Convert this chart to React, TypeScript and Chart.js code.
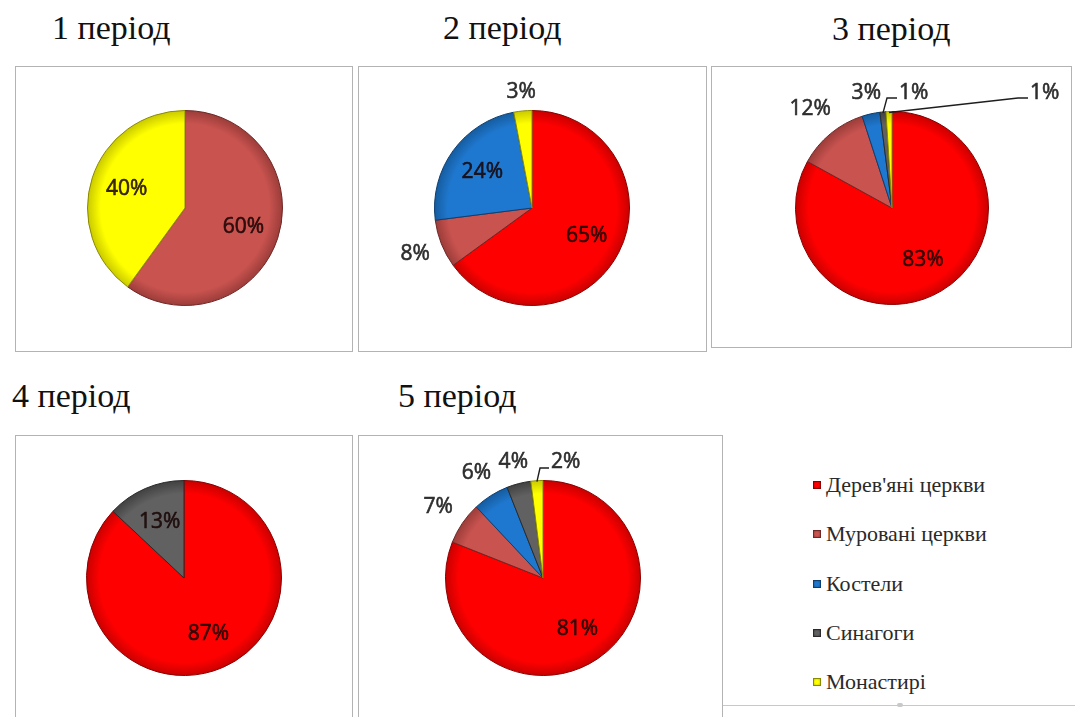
import React, { useEffect, useRef } from 'react';
import { Chart, registerables } from 'chart.js';

Chart.register(...registerables);

// ---- data ----
const categories = ["Дерев'яні церкви", 'Муровані церкви', 'Костели', 'Синагоги', 'Монастирі'];
const periodTitles = ['1 період', '2 період', '3 період', '4 період', '5 період'];
const period1 = [0, 60, 0, 0, 40];
const period2 = [65, 8, 24, 0, 3];
const period3 = [83, 12, 3, 1, 1];
const period4 = [87, 0, 0, 13, 0];
const period5 = [81, 7, 6, 4, 2];

// ---- styles ----
const fillColors = ['#ff0000', '#c9534f', '#1f78cf', '#616161', '#ffff00'];
const edgeColors = ['#c80000', '#9a3c39', '#155b9e', '#404040', '#c8c800'];
const borderColors = ['#8a0000', '#6e2826', '#0d3f70', '#2a2a2a', '#8a8a00'];

const LABEL_FONT = '"Open Sans", "Noto Sans", sans-serif';
const SERIF =
  '"Liberation Serif", "DejaVu Serif", "Noto Serif", FreeSerif, "Nimbus Roman", "Times New Roman", Times, serif';

type Leader = { index: number; dx: number; dy: number; elbow: number; lineDy: number };
type Panel = {
  title: string;
  values: number[];
  box: { left: number; top: number; width: number; height: number };
  center: { x: number; y: number };
  r: number;
  titlePos: { left: number; baseline: number };
  leaders: Leader[];
};

const panels: Panel[] = [
  {
    title: periodTitles[0], values: period1,
    box: { left: 15, top: 66, width: 338, height: 286 },
    center: { x: 185, y: 208 }, r: 98,
    titlePos: { left: 52, baseline: 39 }, leaders: [],
  },
  {
    title: periodTitles[1], values: period2,
    box: { left: 358, top: 66, width: 349, height: 286 },
    center: { x: 532, y: 208 }, r: 98,
    titlePos: { left: 443, baseline: 39 }, leaders: [],
  },
  {
    title: periodTitles[2], values: period3,
    box: { left: 711, top: 66, width: 361, height: 282 },
    center: { x: 892, y: 208 }, r: 97,
    titlePos: { left: 832, baseline: 40 },
    leaders: [
      { index: 3, dx: 7, dy: -115, elbow: 10, lineDy: 5 },
      { index: 4, dx: 138, dy: -115, elbow: 10, lineDy: 5 },
    ],
  },
  {
    title: periodTitles[3], values: period4,
    box: { left: 15, top: 435, width: 338, height: 300 },
    center: { x: 184, y: 578 }, r: 98,
    titlePos: { left: 12, baseline: 407 }, leaders: [],
  },
  {
    title: periodTitles[4], values: period5,
    box: { left: 358, top: 435, width: 365, height: 300 },
    center: { x: 543, y: 578 }, r: 98,
    titlePos: { left: 398, baseline: 407 },
    leaders: [{ index: 4, dx: 8, dy: -116, elbow: 9, lineDy: 6 }],
  },
];

function drawText(ctx: CanvasRenderingContext2D, text: string, x: number, y: number, color: string) {
  ctx.fillStyle = color;
  ctx.strokeStyle = color;
  ctx.lineWidth = 0.6;
  ctx.fillText(text, x, y);
  ctx.strokeText(text, x, y);
}

const sliceLabelPlugin = {
  id: 'sliceLabels',
  afterDatasetsDraw(chart: any, _args: any, opts: any) {
    const ctx: CanvasRenderingContext2D = chart.ctx;
    const meta = chart.getDatasetMeta(0);
    const values: number[] = chart.data.datasets[0].data;
    const total = values.reduce((a, b) => a + b, 0);
    ctx.save();
    ctx.font = `${opts.fontSize}px ${LABEL_FONT}`;
    meta.data.forEach((arc: any, i: number) => {
      const v = values[i];
      if (!v) return;
      const p = arc.getProps(['x', 'y', 'startAngle', 'endAngle', 'outerRadius'], true);
      const mid = (p.startAngle + p.endAngle) / 2;
      const dx = Math.cos(mid);
      const dy = Math.sin(mid);
      const pct = Math.round((v / total) * 100);
      const text = pct + '%';
      const leader = (opts.leaders || []).find((l: Leader) => l.index === i);
      if (leader) {
        const ex = p.x + dx * (p.outerRadius - 1);
        const ey = p.y + dy * (p.outerRadius - 1);
        const lx = p.x + leader.dx;
        const ly = p.y + leader.dy;
        const lineY = ly + leader.lineDy;
        ctx.strokeStyle = '#1e1e1e';
        ctx.lineWidth = 1.4;
        ctx.beginPath();
        ctx.moveTo(ex, ey);
        ctx.lineTo(lx - 2 - leader.elbow, lineY);
        ctx.lineTo(lx - 2, lineY);
        ctx.stroke();
        ctx.textAlign = 'left';
        ctx.textBaseline = 'middle';
        drawText(ctx, text, lx, ly, opts.outsideColor);
        return;
      }
      ctx.textAlign = 'center';
      ctx.textBaseline = 'middle';
      if (pct >= opts.insideMin) {
        const rr = p.outerRadius * opts.insideFactor;
        drawText(ctx, text, p.x + dx * rr, p.y + dy * rr, opts.insideColor);
      } else {
        const m = ctx.measureText(text);
        const hw = m.width / 2;
        const hh = opts.fontSize * 0.36;
        const d = p.outerRadius + opts.gap + Math.abs(dx) * hw + Math.abs(dy) * hh + Math.abs(dx * dy) * 8;
        drawText(ctx, text, p.x + dx * d, p.y + dy * d, opts.outsideColor);
      }
    });
    ctx.restore();
  },
};

function PieBox({ panel }: { panel: Panel }) {
  const ref = useRef<HTMLCanvasElement | null>(null);
  useEffect(() => {
    if (!ref.current) return;
    const { box, center, r } = panel;
    const cx = center.x - box.left;
    const cy = center.y - box.top;
    const padding = {
      left: cx - r,
      right: box.width - cx - r,
      top: cy - r,
      bottom: box.height - cy - r,
    };
    const chart = new Chart(ref.current, {
      type: 'pie',
      data: {
        labels: categories,
        datasets: [
          {
            data: panel.values,
            backgroundColor: (c: any) => {
              const i = c.dataIndex;
              const ch = c.chart;
              const area = ch.chartArea;
              if (!area) return fillColors[i];
              const x = (area.left + area.right) / 2;
              const y = (area.top + area.bottom) / 2;
              const rad = Math.min(area.right - area.left, area.bottom - area.top) / 2;
              const g = ch.ctx.createRadialGradient(x, y, 0, x, y, rad);
              g.addColorStop(0, fillColors[i]);
              g.addColorStop(0.86, fillColors[i]);
              g.addColorStop(1, edgeColors[i]);
              return g;
            },
            borderColor: borderColors,
            borderWidth: (c: any) => (panel.values[c.dataIndex] ? 1 : 0),
            hoverOffset: 0,
          } as any,
        ],
      },
      options: {
        responsive: false,
        animation: false,
        events: [],
        layout: { padding },
        plugins: {
          legend: { display: false },
          tooltip: { enabled: false },
          sliceLabels: {
            fontSize: 21,
            insideMin: 13,
            insideFactor: 0.63,
            gap: 9,
            insideColor: 'rgba(25,5,5,0.85)',
            outsideColor: '#2e2e2e',
            leaders: panel.leaders,
          },
        } as any,
      },
      plugins: [sliceLabelPlugin],
    });
    return () => chart.destroy();
  }, [panel]);

  const { box } = panel;
  return (
    <>
      <div
        style={{
          position: 'absolute',
          left: box.left,
          top: box.top,
          width: box.width,
          height: box.height,
          boxSizing: 'border-box',
          border: '1.5px solid #b3b3b3',
          background: '#fff',
        }}
      />
      <canvas
        ref={ref}
        width={box.width}
        height={box.height}
        style={{ position: 'absolute', left: box.left, top: box.top, width: box.width, height: box.height }}
      />
      <div
        style={{
          position: 'absolute',
          left: panel.titlePos.left,
          top: panel.titlePos.baseline - 27.6,
          fontFamily: SERIF,
          fontSize: 34,
          lineHeight: '33px',
          color: '#111',
          whiteSpace: 'nowrap',
        }}
      >
        {panel.title}
      </div>
    </>
  );
}

function Legend() {
  return (
    <>
      {categories.map((name, i) => (
        <div
          key={name}
          style={{
            position: 'absolute',
            left: 813,
            top: 485 + i * 49.3 - 12,
            height: 24,
            display: 'flex',
            alignItems: 'center',
            whiteSpace: 'nowrap',
          }}
        >
          <span
            style={{
              display: 'inline-block',
              width: 8,
              height: 8,
              background: `radial-gradient(circle, ${fillColors[i]} 40%, ${edgeColors[i]} 100%)`,
              border: `1px solid ${borderColors[i]}`,
              boxSizing: 'border-box',
              marginRight: 5,
            }}
          />
          <span style={{ fontFamily: SERIF, fontSize: 22, color: '#2a2a2a' }}>{name}</span>
        </div>
      ))}
      <div
        style={{
          position: 'absolute',
          left: 723,
          top: 705,
          width: 352,
          height: 1,
          background: '#c8c8c8',
        }}
      />
      <div
        style={{
          position: 'absolute',
          left: 897,
          top: 703,
          width: 6,
          height: 4,
          borderRadius: 3,
          background: '#c8c8c8',
        }}
      />
    </>
  );
}

export default function App() {
  return (
    <div
      style={{
        position: 'fixed',
        left: 0,
        top: 0,
        width: 1075,
        height: 717,
        overflow: 'hidden',
        background: '#fff',
      }}
    >
      {panels.map((p) => (
        <PieBox key={p.title} panel={p} />
      ))}
      <Legend />
    </div>
  );
}
